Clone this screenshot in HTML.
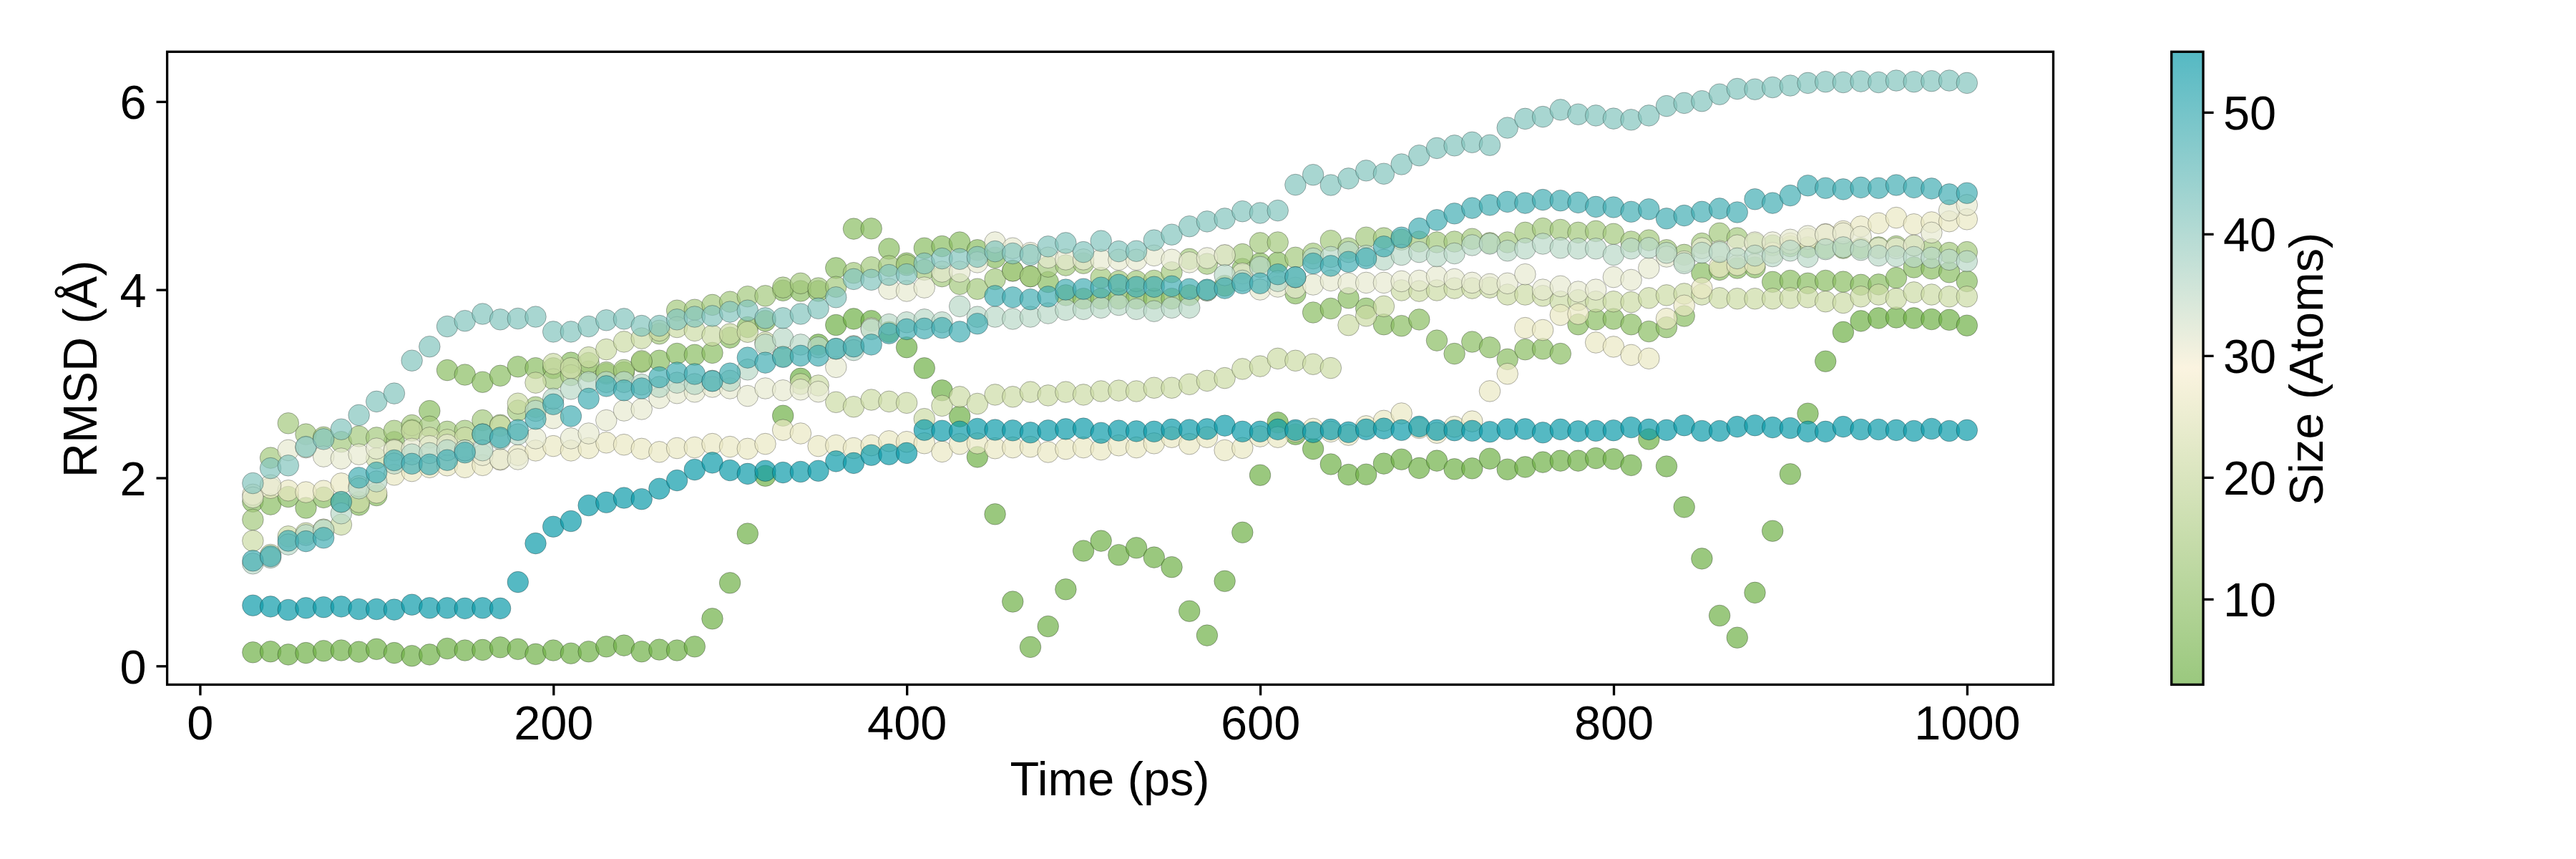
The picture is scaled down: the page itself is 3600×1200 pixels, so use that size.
<!DOCTYPE html><html><head><meta charset="utf-8"><title>RMSD</title>
<style>html,body{margin:0;padding:0;background:#fff}svg{display:block}text{font-family:"Liberation Sans",sans-serif;font-size:66.67px;fill:#000}</style></head><body>
<svg width="3600" height="1200" viewBox="0 0 3600 1200">
<rect width="3600" height="1200" fill="#fff"/>
<g fill="#6fb147" fill-opacity="0.70" stroke="#000" stroke-opacity="0.31" stroke-width="0.95">
<circle cx="353.4" cy="911.3" r="14.8"/>
<circle cx="378.1" cy="910.2" r="14.8"/>
<circle cx="402.8" cy="914.4" r="14.8"/>
<circle cx="427.5" cy="912.1" r="14.8"/>
<circle cx="452.2" cy="909.2" r="14.8"/>
<circle cx="476.9" cy="908.5" r="14.8"/>
<circle cx="501.6" cy="910.6" r="14.8"/>
<circle cx="526.2" cy="906.8" r="14.8"/>
<circle cx="550.9" cy="912.1" r="14.8"/>
<circle cx="575.6" cy="916.2" r="14.8"/>
<circle cx="600.3" cy="914.4" r="14.8"/>
<circle cx="625.0" cy="906.0" r="14.8"/>
<circle cx="649.7" cy="908.5" r="14.8"/>
<circle cx="674.4" cy="907.9" r="14.8"/>
<circle cx="699.1" cy="904.3" r="14.8"/>
<circle cx="723.8" cy="906.8" r="14.8"/>
<circle cx="748.5" cy="913.8" r="14.8"/>
<circle cx="773.2" cy="908.5" r="14.8"/>
<circle cx="797.9" cy="912.7" r="14.8"/>
<circle cx="822.6" cy="910.2" r="14.8"/>
<circle cx="847.3" cy="903.3" r="14.8"/>
<circle cx="872.0" cy="901.6" r="14.8"/>
<circle cx="896.7" cy="910.2" r="14.8"/>
<circle cx="921.4" cy="907.5" r="14.8"/>
<circle cx="946.1" cy="908.5" r="14.8"/>
<circle cx="970.8" cy="903.3" r="14.8"/>
<circle cx="995.5" cy="864.3" r="14.8"/>
<circle cx="1020.1" cy="814.3" r="14.8"/>
<circle cx="1044.8" cy="745.5" r="14.8"/>
<circle cx="1069.5" cy="664.7" r="14.8"/>
<circle cx="1094.2" cy="580.7" r="14.8"/>
<circle cx="1118.9" cy="528.8" r="14.8"/>
<circle cx="1143.6" cy="481.4" r="14.8"/>
<circle cx="1168.3" cy="454.0" r="14.8"/>
<circle cx="1193.0" cy="445.4" r="14.8"/>
<circle cx="1217.7" cy="448.2" r="14.8"/>
<circle cx="1242.4" cy="463.6" r="14.8"/>
<circle cx="1267.1" cy="485.2" r="14.8"/>
<circle cx="1291.8" cy="514.3" r="14.8"/>
<circle cx="1316.5" cy="545.3" r="14.8"/>
<circle cx="1341.2" cy="581.7" r="14.8"/>
<circle cx="1365.9" cy="638.4" r="14.8"/>
<circle cx="1390.6" cy="718.3" r="14.8"/>
<circle cx="1415.3" cy="840.5" r="14.8"/>
<circle cx="1440.0" cy="903.9" r="14.8"/>
<circle cx="1464.7" cy="875.0" r="14.8"/>
<circle cx="1489.4" cy="823.3" r="14.8"/>
<circle cx="1514.1" cy="769.5" r="14.8"/>
<circle cx="1538.7" cy="755.6" r="14.8"/>
<circle cx="1563.4" cy="775.2" r="14.8"/>
<circle cx="1588.1" cy="765.3" r="14.8"/>
<circle cx="1612.8" cy="778.6" r="14.8"/>
<circle cx="1637.5" cy="792.2" r="14.8"/>
<circle cx="1662.2" cy="853.7" r="14.8"/>
<circle cx="1686.9" cy="887.6" r="14.8"/>
<circle cx="1711.6" cy="811.8" r="14.8"/>
<circle cx="1736.3" cy="743.8" r="14.8"/>
<circle cx="1761.0" cy="663.7" r="14.8"/>
<circle cx="1785.7" cy="590.2" r="14.8"/>
<circle cx="1810.4" cy="606.7" r="14.8"/>
<circle cx="1835.1" cy="627.1" r="14.8"/>
<circle cx="1859.8" cy="648.5" r="14.8"/>
<circle cx="1884.5" cy="663.1" r="14.8"/>
<circle cx="1909.2" cy="662.7" r="14.8"/>
<circle cx="1933.9" cy="647.6" r="14.8"/>
<circle cx="1958.6" cy="641.7" r="14.8"/>
<circle cx="1983.3" cy="653.9" r="14.8"/>
<circle cx="2008.0" cy="643.6" r="14.8"/>
<circle cx="2032.6" cy="655.3" r="14.8"/>
<circle cx="2057.3" cy="654.3" r="14.8"/>
<circle cx="2082.0" cy="640.7" r="14.8"/>
<circle cx="2106.7" cy="655.7" r="14.8"/>
<circle cx="2131.4" cy="652.4" r="14.8"/>
<circle cx="2156.1" cy="645.6" r="14.8"/>
<circle cx="2180.8" cy="643.6" r="14.8"/>
<circle cx="2205.5" cy="643.6" r="14.8"/>
<circle cx="2230.2" cy="640.1" r="14.8"/>
<circle cx="2254.9" cy="641.3" r="14.8"/>
<circle cx="2279.6" cy="649.9" r="14.8"/>
<circle cx="2304.3" cy="613.5" r="14.8"/>
<circle cx="2329.0" cy="651.5" r="14.8"/>
<circle cx="2353.7" cy="708.4" r="14.8"/>
<circle cx="2378.4" cy="780.4" r="14.8"/>
<circle cx="2403.1" cy="860.0" r="14.8"/>
<circle cx="2427.8" cy="890.7" r="14.8"/>
<circle cx="2452.5" cy="827.9" r="14.8"/>
<circle cx="2477.2" cy="741.7" r="14.8"/>
<circle cx="2501.9" cy="662.3" r="14.8"/>
<circle cx="2526.5" cy="577.7" r="14.8"/>
<circle cx="2551.2" cy="504.7" r="14.8"/>
<circle cx="2575.9" cy="463.9" r="14.8"/>
<circle cx="2600.6" cy="448.4" r="14.8"/>
<circle cx="2625.3" cy="444.4" r="14.8"/>
<circle cx="2650.0" cy="443.5" r="14.8"/>
<circle cx="2674.7" cy="444.4" r="14.8"/>
<circle cx="2699.4" cy="446.0" r="14.8"/>
<circle cx="2724.1" cy="446.8" r="14.8"/>
<circle cx="2748.8" cy="454.7" r="14.8"/>
</g>
<g fill="#8abd62" fill-opacity="0.70" stroke="#000" stroke-opacity="0.31" stroke-width="0.95">
<circle cx="353.4" cy="700.7" r="14.8"/>
<circle cx="378.1" cy="704.6" r="14.8"/>
<circle cx="402.8" cy="694.0" r="14.8"/>
<circle cx="427.5" cy="709.5" r="14.8"/>
<circle cx="452.2" cy="694.9" r="14.8"/>
<circle cx="476.9" cy="701.4" r="14.8"/>
<circle cx="501.6" cy="705.4" r="14.8"/>
<circle cx="526.2" cy="692.0" r="14.8"/>
<circle cx="550.9" cy="617.4" r="14.8"/>
<circle cx="575.6" cy="600.3" r="14.8"/>
<circle cx="600.3" cy="574.1" r="14.8"/>
<circle cx="625.0" cy="517.1" r="14.8"/>
<circle cx="649.7" cy="523.5" r="14.8"/>
<circle cx="674.4" cy="533.7" r="14.8"/>
<circle cx="699.1" cy="524.8" r="14.8"/>
<circle cx="723.8" cy="512.2" r="14.8"/>
<circle cx="748.5" cy="514.2" r="14.8"/>
<circle cx="773.2" cy="514.3" r="14.8"/>
<circle cx="797.9" cy="506.6" r="14.8"/>
<circle cx="822.6" cy="518.8" r="14.8"/>
<circle cx="847.3" cy="522.1" r="14.8"/>
<circle cx="872.0" cy="520.1" r="14.8"/>
<circle cx="896.7" cy="505.7" r="14.8"/>
<circle cx="921.4" cy="503.7" r="14.8"/>
<circle cx="946.1" cy="494.0" r="14.8"/>
<circle cx="970.8" cy="495.8" r="14.8"/>
<circle cx="995.5" cy="492.9" r="14.8"/>
<circle cx="1020.1" cy="471.6" r="14.8"/>
<circle cx="1044.8" cy="457.0" r="14.8"/>
<circle cx="1069.5" cy="448.2" r="14.8"/>
<circle cx="1094.2" cy="405.8" r="14.8"/>
<circle cx="1118.9" cy="406.5" r="14.8"/>
<circle cx="1143.6" cy="406.5" r="14.8"/>
<circle cx="1168.3" cy="374.4" r="14.8"/>
<circle cx="1193.0" cy="319.6" r="14.8"/>
<circle cx="1217.7" cy="319.3" r="14.8"/>
<circle cx="1242.4" cy="347.5" r="14.8"/>
<circle cx="1267.1" cy="367.7" r="14.8"/>
<circle cx="1291.8" cy="346.7" r="14.8"/>
<circle cx="1316.5" cy="344.0" r="14.8"/>
<circle cx="1341.2" cy="338.5" r="14.8"/>
<circle cx="1365.9" cy="349.3" r="14.8"/>
<circle cx="1390.6" cy="359.8" r="14.8"/>
<circle cx="1415.3" cy="378.3" r="14.8"/>
<circle cx="1440.0" cy="386.1" r="14.8"/>
<circle cx="1464.7" cy="394.0" r="14.8"/>
<circle cx="1489.4" cy="412.4" r="14.8"/>
<circle cx="1514.1" cy="417.2" r="14.8"/>
<circle cx="1538.7" cy="417.2" r="14.8"/>
<circle cx="1563.4" cy="417.2" r="14.8"/>
<circle cx="1588.1" cy="417.2" r="14.8"/>
<circle cx="1612.8" cy="417.2" r="14.8"/>
<circle cx="1637.5" cy="417.2" r="14.8"/>
<circle cx="1662.2" cy="412.4" r="14.8"/>
<circle cx="1686.9" cy="405.8" r="14.8"/>
<circle cx="1711.6" cy="399.2" r="14.8"/>
<circle cx="1736.3" cy="375.6" r="14.8"/>
<circle cx="1761.0" cy="367.7" r="14.8"/>
<circle cx="1785.7" cy="366.8" r="14.8"/>
<circle cx="1810.4" cy="410.0" r="14.8"/>
<circle cx="1835.1" cy="436.5" r="14.8"/>
<circle cx="1859.8" cy="431.0" r="14.8"/>
<circle cx="1884.5" cy="416.3" r="14.8"/>
<circle cx="1909.2" cy="430.9" r="14.8"/>
<circle cx="1933.9" cy="453.2" r="14.8"/>
<circle cx="1958.6" cy="455.2" r="14.8"/>
<circle cx="1983.3" cy="446.4" r="14.8"/>
<circle cx="2008.0" cy="475.6" r="14.8"/>
<circle cx="2032.6" cy="494.1" r="14.8"/>
<circle cx="2057.3" cy="477.5" r="14.8"/>
<circle cx="2082.0" cy="485.3" r="14.8"/>
<circle cx="2106.7" cy="501.9" r="14.8"/>
<circle cx="2131.4" cy="488.2" r="14.8"/>
<circle cx="2156.1" cy="487.3" r="14.8"/>
<circle cx="2180.8" cy="494.1" r="14.8"/>
<circle cx="2205.5" cy="453.2" r="14.8"/>
<circle cx="2230.2" cy="446.4" r="14.8"/>
<circle cx="2254.9" cy="445.5" r="14.8"/>
<circle cx="2279.6" cy="453.2" r="14.8"/>
<circle cx="2304.3" cy="463.0" r="14.8"/>
<circle cx="2329.0" cy="457.2" r="14.8"/>
<circle cx="2353.7" cy="441.5" r="14.8"/>
<circle cx="2378.4" cy="381.2" r="14.8"/>
<circle cx="2403.1" cy="376.9" r="14.8"/>
<circle cx="2427.8" cy="374.5" r="14.8"/>
<circle cx="2452.5" cy="373.6" r="14.8"/>
<circle cx="2477.2" cy="393.8" r="14.8"/>
<circle cx="2501.9" cy="392.0" r="14.8"/>
<circle cx="2526.5" cy="395.8" r="14.8"/>
<circle cx="2551.2" cy="392.0" r="14.8"/>
<circle cx="2575.9" cy="393.6" r="14.8"/>
<circle cx="2600.6" cy="397.8" r="14.8"/>
<circle cx="2625.3" cy="397.4" r="14.8"/>
<circle cx="2650.0" cy="388.1" r="14.8"/>
<circle cx="2674.7" cy="373.5" r="14.8"/>
<circle cx="2699.4" cy="375.4" r="14.8"/>
<circle cx="2724.1" cy="380.3" r="14.8"/>
<circle cx="2748.8" cy="392.9" r="14.8"/>
</g>
<g fill="#a4c97d" fill-opacity="0.70" stroke="#000" stroke-opacity="0.31" stroke-width="0.95">
<circle cx="353.4" cy="726.0" r="14.8"/>
<circle cx="378.1" cy="639.6" r="14.8"/>
<circle cx="402.8" cy="591.3" r="14.8"/>
<circle cx="427.5" cy="606.6" r="14.8"/>
<circle cx="452.2" cy="610.8" r="14.8"/>
<circle cx="476.9" cy="617.2" r="14.8"/>
<circle cx="501.6" cy="609.5" r="14.8"/>
<circle cx="526.2" cy="611.4" r="14.8"/>
<circle cx="550.9" cy="601.7" r="14.8"/>
<circle cx="575.6" cy="594.0" r="14.8"/>
<circle cx="600.3" cy="595.8" r="14.8"/>
<circle cx="625.0" cy="602.9" r="14.8"/>
<circle cx="649.7" cy="601.7" r="14.8"/>
<circle cx="674.4" cy="587.1" r="14.8"/>
<circle cx="699.1" cy="593.7" r="14.8"/>
<circle cx="723.8" cy="573.5" r="14.8"/>
<circle cx="748.5" cy="568.7" r="14.8"/>
<circle cx="773.2" cy="529.7" r="14.8"/>
<circle cx="797.9" cy="524.1" r="14.8"/>
<circle cx="822.6" cy="507.0" r="14.8"/>
<circle cx="847.3" cy="520.1" r="14.8"/>
<circle cx="872.0" cy="516.8" r="14.8"/>
<circle cx="896.7" cy="504.3" r="14.8"/>
<circle cx="921.4" cy="466.2" r="14.8"/>
<circle cx="946.1" cy="433.7" r="14.8"/>
<circle cx="970.8" cy="432.7" r="14.8"/>
<circle cx="995.5" cy="425.9" r="14.8"/>
<circle cx="1020.1" cy="421.6" r="14.8"/>
<circle cx="1044.8" cy="414.2" r="14.8"/>
<circle cx="1069.5" cy="413.3" r="14.8"/>
<circle cx="1094.2" cy="401.6" r="14.8"/>
<circle cx="1118.9" cy="395.8" r="14.8"/>
<circle cx="1143.6" cy="402.5" r="14.8"/>
<circle cx="1168.3" cy="400.7" r="14.8"/>
<circle cx="1193.0" cy="381.2" r="14.8"/>
<circle cx="1217.7" cy="373.3" r="14.8"/>
<circle cx="1242.4" cy="371.6" r="14.8"/>
<circle cx="1267.1" cy="370.3" r="14.8"/>
<circle cx="1291.8" cy="376.9" r="14.8"/>
<circle cx="1316.5" cy="386.1" r="14.8"/>
<circle cx="1341.2" cy="396.9" r="14.8"/>
<circle cx="1365.9" cy="403.7" r="14.8"/>
<circle cx="1390.6" cy="390.0" r="14.8"/>
<circle cx="1415.3" cy="378.3" r="14.8"/>
<circle cx="1440.0" cy="386.1" r="14.8"/>
<circle cx="1464.7" cy="372.6" r="14.8"/>
<circle cx="1489.4" cy="370.6" r="14.8"/>
<circle cx="1514.1" cy="367.7" r="14.8"/>
<circle cx="1538.7" cy="388.1" r="14.8"/>
<circle cx="1563.4" cy="392.7" r="14.8"/>
<circle cx="1588.1" cy="392.7" r="14.8"/>
<circle cx="1612.8" cy="392.0" r="14.8"/>
<circle cx="1637.5" cy="380.3" r="14.8"/>
<circle cx="1662.2" cy="361.9" r="14.8"/>
<circle cx="1686.9" cy="368.6" r="14.8"/>
<circle cx="1711.6" cy="356.9" r="14.8"/>
<circle cx="1736.3" cy="355.1" r="14.8"/>
<circle cx="1761.0" cy="339.4" r="14.8"/>
<circle cx="1785.7" cy="338.5" r="14.8"/>
<circle cx="1810.4" cy="359.8" r="14.8"/>
<circle cx="1835.1" cy="354.2" r="14.8"/>
<circle cx="1859.8" cy="336.2" r="14.8"/>
<circle cx="1884.5" cy="346.7" r="14.8"/>
<circle cx="1909.2" cy="331.7" r="14.8"/>
<circle cx="1933.9" cy="332.6" r="14.8"/>
<circle cx="1958.6" cy="334.8" r="14.8"/>
<circle cx="1983.3" cy="337.5" r="14.8"/>
<circle cx="2008.0" cy="338.5" r="14.8"/>
<circle cx="2032.6" cy="337.5" r="14.8"/>
<circle cx="2057.3" cy="333.7" r="14.8"/>
<circle cx="2082.0" cy="339.4" r="14.8"/>
<circle cx="2106.7" cy="338.5" r="14.8"/>
<circle cx="2131.4" cy="324.9" r="14.8"/>
<circle cx="2156.1" cy="319.1" r="14.8"/>
<circle cx="2180.8" cy="321.0" r="14.8"/>
<circle cx="2205.5" cy="324.9" r="14.8"/>
<circle cx="2230.2" cy="322.9" r="14.8"/>
<circle cx="2254.9" cy="326.8" r="14.8"/>
<circle cx="2279.6" cy="337.5" r="14.8"/>
<circle cx="2304.3" cy="335.6" r="14.8"/>
<circle cx="2329.0" cy="349.3" r="14.8"/>
<circle cx="2353.7" cy="355.9" r="14.8"/>
<circle cx="2378.4" cy="340.1" r="14.8"/>
<circle cx="2403.1" cy="325.9" r="14.8"/>
<circle cx="2427.8" cy="332.6" r="14.8"/>
<circle cx="2452.5" cy="340.1" r="14.8"/>
<circle cx="2477.2" cy="342.7" r="14.8"/>
<circle cx="2501.9" cy="344.0" r="14.8"/>
<circle cx="2526.5" cy="345.4" r="14.8"/>
<circle cx="2551.2" cy="346.7" r="14.8"/>
<circle cx="2575.9" cy="346.7" r="14.8"/>
<circle cx="2600.6" cy="346.7" r="14.8"/>
<circle cx="2625.3" cy="345.4" r="14.8"/>
<circle cx="2650.0" cy="344.0" r="14.8"/>
<circle cx="2674.7" cy="343.4" r="14.8"/>
<circle cx="2699.4" cy="348.0" r="14.8"/>
<circle cx="2724.1" cy="353.1" r="14.8"/>
<circle cx="2748.8" cy="352.1" r="14.8"/>
</g>
<g fill="#ccdba5" fill-opacity="0.70" stroke="#000" stroke-opacity="0.31" stroke-width="0.95">
<circle cx="353.4" cy="755.5" r="14.8"/>
<circle cx="378.1" cy="775.0" r="14.8"/>
<circle cx="402.8" cy="749.3" r="14.8"/>
<circle cx="427.5" cy="744.8" r="14.8"/>
<circle cx="452.2" cy="739.6" r="14.8"/>
<circle cx="476.9" cy="732.9" r="14.8"/>
<circle cx="501.6" cy="701.4" r="14.8"/>
<circle cx="526.2" cy="640.2" r="14.8"/>
<circle cx="550.9" cy="627.9" r="14.8"/>
<circle cx="575.6" cy="601.7" r="14.8"/>
<circle cx="600.3" cy="611.4" r="14.8"/>
<circle cx="625.0" cy="614.3" r="14.8"/>
<circle cx="649.7" cy="611.4" r="14.8"/>
<circle cx="674.4" cy="606.8" r="14.8"/>
<circle cx="699.1" cy="595.0" r="14.8"/>
<circle cx="723.8" cy="563.7" r="14.8"/>
<circle cx="748.5" cy="534.6" r="14.8"/>
<circle cx="773.2" cy="508.3" r="14.8"/>
<circle cx="797.9" cy="514.2" r="14.8"/>
<circle cx="822.6" cy="499.1" r="14.8"/>
<circle cx="847.3" cy="488.1" r="14.8"/>
<circle cx="872.0" cy="477.4" r="14.8"/>
<circle cx="896.7" cy="472.6" r="14.8"/>
<circle cx="921.4" cy="461.9" r="14.8"/>
<circle cx="946.1" cy="457.0" r="14.8"/>
<circle cx="970.8" cy="461.9" r="14.8"/>
<circle cx="995.5" cy="468.7" r="14.8"/>
<circle cx="1020.1" cy="466.6" r="14.8"/>
<circle cx="1044.8" cy="463.7" r="14.8"/>
<circle cx="1069.5" cy="478.3" r="14.8"/>
<circle cx="1094.2" cy="497.8" r="14.8"/>
<circle cx="1118.9" cy="536.5" r="14.8"/>
<circle cx="1143.6" cy="538.5" r="14.8"/>
<circle cx="1168.3" cy="561.8" r="14.8"/>
<circle cx="1193.0" cy="568.2" r="14.8"/>
<circle cx="1217.7" cy="558.5" r="14.8"/>
<circle cx="1242.4" cy="560.9" r="14.8"/>
<circle cx="1267.1" cy="562.8" r="14.8"/>
<circle cx="1291.8" cy="585.2" r="14.8"/>
<circle cx="1316.5" cy="566.8" r="14.8"/>
<circle cx="1341.2" cy="554.3" r="14.8"/>
<circle cx="1365.9" cy="564.0" r="14.8"/>
<circle cx="1390.6" cy="551.4" r="14.8"/>
<circle cx="1415.3" cy="554.3" r="14.8"/>
<circle cx="1440.0" cy="547.6" r="14.8"/>
<circle cx="1464.7" cy="552.4" r="14.8"/>
<circle cx="1489.4" cy="547.6" r="14.8"/>
<circle cx="1514.1" cy="551.4" r="14.8"/>
<circle cx="1538.7" cy="546.5" r="14.8"/>
<circle cx="1563.4" cy="545.6" r="14.8"/>
<circle cx="1588.1" cy="546.5" r="14.8"/>
<circle cx="1612.8" cy="541.7" r="14.8"/>
<circle cx="1637.5" cy="541.7" r="14.8"/>
<circle cx="1662.2" cy="536.8" r="14.8"/>
<circle cx="1686.9" cy="531.9" r="14.8"/>
<circle cx="1711.6" cy="528.1" r="14.8"/>
<circle cx="1736.3" cy="515.4" r="14.8"/>
<circle cx="1761.0" cy="511.6" r="14.8"/>
<circle cx="1785.7" cy="500.9" r="14.8"/>
<circle cx="1810.4" cy="503.8" r="14.8"/>
<circle cx="1835.1" cy="508.7" r="14.8"/>
<circle cx="1859.8" cy="514.1" r="14.8"/>
<circle cx="1884.5" cy="454.2" r="14.8"/>
<circle cx="1909.2" cy="441.3" r="14.8"/>
<circle cx="1933.9" cy="427.9" r="14.8"/>
<circle cx="1958.6" cy="405.5" r="14.8"/>
<circle cx="1983.3" cy="406.6" r="14.8"/>
<circle cx="2008.0" cy="405.5" r="14.8"/>
<circle cx="2032.6" cy="402.6" r="14.8"/>
<circle cx="2057.3" cy="402.6" r="14.8"/>
<circle cx="2082.0" cy="401.7" r="14.8"/>
<circle cx="2106.7" cy="411.5" r="14.8"/>
<circle cx="2131.4" cy="411.5" r="14.8"/>
<circle cx="2156.1" cy="413.3" r="14.8"/>
<circle cx="2180.8" cy="421.2" r="14.8"/>
<circle cx="2205.5" cy="419.2" r="14.8"/>
<circle cx="2230.2" cy="421.2" r="14.8"/>
<circle cx="2254.9" cy="421.2" r="14.8"/>
<circle cx="2279.6" cy="422.1" r="14.8"/>
<circle cx="2304.3" cy="416.3" r="14.8"/>
<circle cx="2329.0" cy="412.4" r="14.8"/>
<circle cx="2353.7" cy="410.4" r="14.8"/>
<circle cx="2378.4" cy="411.5" r="14.8"/>
<circle cx="2403.1" cy="416.3" r="14.8"/>
<circle cx="2427.8" cy="417.2" r="14.8"/>
<circle cx="2452.5" cy="417.2" r="14.8"/>
<circle cx="2477.2" cy="417.2" r="14.8"/>
<circle cx="2501.9" cy="416.3" r="14.8"/>
<circle cx="2526.5" cy="415.3" r="14.8"/>
<circle cx="2551.2" cy="421.2" r="14.8"/>
<circle cx="2575.9" cy="423.0" r="14.8"/>
<circle cx="2600.6" cy="414.3" r="14.8"/>
<circle cx="2625.3" cy="411.5" r="14.8"/>
<circle cx="2650.0" cy="417.2" r="14.8"/>
<circle cx="2674.7" cy="408.4" r="14.8"/>
<circle cx="2699.4" cy="411.5" r="14.8"/>
<circle cx="2724.1" cy="414.3" r="14.8"/>
<circle cx="2748.8" cy="414.3" r="14.8"/>
</g>
<g fill="#e9e8c3" fill-opacity="0.70" stroke="#000" stroke-opacity="0.31" stroke-width="0.95">
<circle cx="353.4" cy="690.9" r="14.8"/>
<circle cx="378.1" cy="681.7" r="14.8"/>
<circle cx="402.8" cy="685.2" r="14.8"/>
<circle cx="427.5" cy="687.5" r="14.8"/>
<circle cx="452.2" cy="685.7" r="14.8"/>
<circle cx="476.9" cy="675.4" r="14.8"/>
<circle cx="501.6" cy="679.1" r="14.8"/>
<circle cx="526.2" cy="688.3" r="14.8"/>
<circle cx="550.9" cy="663.3" r="14.8"/>
<circle cx="575.6" cy="658.1" r="14.8"/>
<circle cx="600.3" cy="652.8" r="14.8"/>
<circle cx="625.0" cy="650.2" r="14.8"/>
<circle cx="649.7" cy="652.8" r="14.8"/>
<circle cx="674.4" cy="649.8" r="14.8"/>
<circle cx="699.1" cy="642.3" r="14.8"/>
<circle cx="723.8" cy="635.7" r="14.8"/>
<circle cx="748.5" cy="629.4" r="14.8"/>
<circle cx="773.2" cy="623.1" r="14.8"/>
<circle cx="797.9" cy="629.4" r="14.8"/>
<circle cx="822.6" cy="626.0" r="14.8"/>
<circle cx="847.3" cy="618.3" r="14.8"/>
<circle cx="872.0" cy="621.2" r="14.8"/>
<circle cx="896.7" cy="626.9" r="14.8"/>
<circle cx="921.4" cy="631.3" r="14.8"/>
<circle cx="946.1" cy="626.0" r="14.8"/>
<circle cx="970.8" cy="625.0" r="14.8"/>
<circle cx="995.5" cy="620.1" r="14.8"/>
<circle cx="1020.1" cy="624.1" r="14.8"/>
<circle cx="1044.8" cy="626.9" r="14.8"/>
<circle cx="1069.5" cy="620.1" r="14.8"/>
<circle cx="1094.2" cy="600.7" r="14.8"/>
<circle cx="1118.9" cy="605.5" r="14.8"/>
<circle cx="1143.6" cy="623.1" r="14.8"/>
<circle cx="1168.3" cy="622.1" r="14.8"/>
<circle cx="1193.0" cy="626.0" r="14.8"/>
<circle cx="1217.7" cy="622.1" r="14.8"/>
<circle cx="1242.4" cy="616.3" r="14.8"/>
<circle cx="1267.1" cy="617.2" r="14.8"/>
<circle cx="1291.8" cy="619.2" r="14.8"/>
<circle cx="1316.5" cy="630.9" r="14.8"/>
<circle cx="1341.2" cy="620.2" r="14.8"/>
<circle cx="1365.9" cy="619.3" r="14.8"/>
<circle cx="1390.6" cy="626.2" r="14.8"/>
<circle cx="1415.3" cy="625.1" r="14.8"/>
<circle cx="1440.0" cy="624.2" r="14.8"/>
<circle cx="1464.7" cy="631.5" r="14.8"/>
<circle cx="1489.4" cy="627.1" r="14.8"/>
<circle cx="1514.1" cy="625.1" r="14.8"/>
<circle cx="1538.7" cy="628.1" r="14.8"/>
<circle cx="1563.4" cy="622.2" r="14.8"/>
<circle cx="1588.1" cy="625.1" r="14.8"/>
<circle cx="1612.8" cy="619.3" r="14.8"/>
<circle cx="1637.5" cy="610.7" r="14.8"/>
<circle cx="1662.2" cy="620.2" r="14.8"/>
<circle cx="1686.9" cy="610.7" r="14.8"/>
<circle cx="1711.6" cy="629.0" r="14.8"/>
<circle cx="1736.3" cy="625.8" r="14.8"/>
<circle cx="1761.0" cy="609.6" r="14.8"/>
<circle cx="1785.7" cy="610.7" r="14.8"/>
<circle cx="1810.4" cy="602.9" r="14.8"/>
<circle cx="1835.1" cy="599.0" r="14.8"/>
<circle cx="1859.8" cy="602.9" r="14.8"/>
<circle cx="1884.5" cy="607.6" r="14.8"/>
<circle cx="1909.2" cy="595.3" r="14.8"/>
<circle cx="1933.9" cy="587.8" r="14.8"/>
<circle cx="1958.6" cy="577.5" r="14.8"/>
<circle cx="1983.3" cy="597.9" r="14.8"/>
<circle cx="2008.0" cy="604.7" r="14.8"/>
<circle cx="2032.6" cy="596.1" r="14.8"/>
<circle cx="2057.3" cy="588.6" r="14.8"/>
<circle cx="2082.0" cy="546.4" r="14.8"/>
<circle cx="2106.7" cy="522.2" r="14.8"/>
<circle cx="2131.4" cy="458.1" r="14.8"/>
<circle cx="2156.1" cy="461.0" r="14.8"/>
<circle cx="2180.8" cy="440.0" r="14.8"/>
<circle cx="2205.5" cy="438.6" r="14.8"/>
<circle cx="2230.2" cy="478.5" r="14.8"/>
<circle cx="2254.9" cy="484.4" r="14.8"/>
<circle cx="2279.6" cy="495.9" r="14.8"/>
<circle cx="2304.3" cy="500.8" r="14.8"/>
<circle cx="2329.0" cy="445.2" r="14.8"/>
<circle cx="2353.7" cy="426.8" r="14.8"/>
<circle cx="2378.4" cy="402.6" r="14.8"/>
<circle cx="2403.1" cy="372.9" r="14.8"/>
<circle cx="2427.8" cy="370.3" r="14.8"/>
<circle cx="2452.5" cy="369.0" r="14.8"/>
<circle cx="2477.2" cy="353.2" r="14.8"/>
<circle cx="2501.9" cy="340.1" r="14.8"/>
<circle cx="2526.5" cy="333.5" r="14.8"/>
<circle cx="2551.2" cy="327.0" r="14.8"/>
<circle cx="2575.9" cy="323.0" r="14.8"/>
<circle cx="2600.6" cy="316.4" r="14.8"/>
<circle cx="2625.3" cy="311.8" r="14.8"/>
<circle cx="2650.0" cy="304.1" r="14.8"/>
<circle cx="2674.7" cy="313.3" r="14.8"/>
<circle cx="2699.4" cy="310.5" r="14.8"/>
<circle cx="2724.1" cy="309.2" r="14.8"/>
<circle cx="2748.8" cy="306.3" r="14.8"/>
</g>
<g fill="#e7e9d0" fill-opacity="0.70" stroke="#000" stroke-opacity="0.31" stroke-width="0.95">
<circle cx="353.4" cy="694.9" r="14.8"/>
<circle cx="378.1" cy="677.8" r="14.8"/>
<circle cx="402.8" cy="628.9" r="14.8"/>
<circle cx="427.5" cy="625.2" r="14.8"/>
<circle cx="452.2" cy="637.6" r="14.8"/>
<circle cx="476.9" cy="640.6" r="14.8"/>
<circle cx="501.6" cy="634.7" r="14.8"/>
<circle cx="526.2" cy="626.6" r="14.8"/>
<circle cx="550.9" cy="629.2" r="14.8"/>
<circle cx="575.6" cy="626.9" r="14.8"/>
<circle cx="600.3" cy="623.1" r="14.8"/>
<circle cx="625.0" cy="621.3" r="14.8"/>
<circle cx="649.7" cy="629.2" r="14.8"/>
<circle cx="674.4" cy="635.7" r="14.8"/>
<circle cx="699.1" cy="641.4" r="14.8"/>
<circle cx="723.8" cy="641.5" r="14.8"/>
<circle cx="748.5" cy="612.4" r="14.8"/>
<circle cx="773.2" cy="584.2" r="14.8"/>
<circle cx="797.9" cy="612.4" r="14.8"/>
<circle cx="822.6" cy="605.5" r="14.8"/>
<circle cx="847.3" cy="587.1" r="14.8"/>
<circle cx="872.0" cy="573.5" r="14.8"/>
<circle cx="896.7" cy="571.5" r="14.8"/>
<circle cx="921.4" cy="556.0" r="14.8"/>
<circle cx="946.1" cy="549.2" r="14.8"/>
<circle cx="970.8" cy="547.3" r="14.8"/>
<circle cx="995.5" cy="540.5" r="14.8"/>
<circle cx="1020.1" cy="542.5" r="14.8"/>
<circle cx="1044.8" cy="553.1" r="14.8"/>
<circle cx="1069.5" cy="542.5" r="14.8"/>
<circle cx="1094.2" cy="545.3" r="14.8"/>
<circle cx="1118.9" cy="544.3" r="14.8"/>
<circle cx="1143.6" cy="547.2" r="14.8"/>
<circle cx="1168.3" cy="512.8" r="14.8"/>
<circle cx="1193.0" cy="483.3" r="14.8"/>
<circle cx="1217.7" cy="458.4" r="14.8"/>
<circle cx="1242.4" cy="403.6" r="14.8"/>
<circle cx="1267.1" cy="406.5" r="14.8"/>
<circle cx="1291.8" cy="401.6" r="14.8"/>
<circle cx="1316.5" cy="379.5" r="14.8"/>
<circle cx="1341.2" cy="379.5" r="14.8"/>
<circle cx="1365.9" cy="366.4" r="14.8"/>
<circle cx="1390.6" cy="338.5" r="14.8"/>
<circle cx="1415.3" cy="346.7" r="14.8"/>
<circle cx="1440.0" cy="353.2" r="14.8"/>
<circle cx="1464.7" cy="359.8" r="14.8"/>
<circle cx="1489.4" cy="362.4" r="14.8"/>
<circle cx="1514.1" cy="362.4" r="14.8"/>
<circle cx="1538.7" cy="362.8" r="14.8"/>
<circle cx="1563.4" cy="362.8" r="14.8"/>
<circle cx="1588.1" cy="362.8" r="14.8"/>
<circle cx="1612.8" cy="356.9" r="14.8"/>
<circle cx="1637.5" cy="362.8" r="14.8"/>
<circle cx="1662.2" cy="366.4" r="14.8"/>
<circle cx="1686.9" cy="360.5" r="14.8"/>
<circle cx="1711.6" cy="356.3" r="14.8"/>
<circle cx="1736.3" cy="382.1" r="14.8"/>
<circle cx="1761.0" cy="404.5" r="14.8"/>
<circle cx="1785.7" cy="400.5" r="14.8"/>
<circle cx="1810.4" cy="401.9" r="14.8"/>
<circle cx="1835.1" cy="397.5" r="14.8"/>
<circle cx="1859.8" cy="391.9" r="14.8"/>
<circle cx="1884.5" cy="395.8" r="14.8"/>
<circle cx="1909.2" cy="394.9" r="14.8"/>
<circle cx="1933.9" cy="394.9" r="14.8"/>
<circle cx="1958.6" cy="392.9" r="14.8"/>
<circle cx="1983.3" cy="392.0" r="14.8"/>
<circle cx="2008.0" cy="386.1" r="14.8"/>
<circle cx="2032.6" cy="390.0" r="14.8"/>
<circle cx="2057.3" cy="394.9" r="14.8"/>
<circle cx="2082.0" cy="396.9" r="14.8"/>
<circle cx="2106.7" cy="395.8" r="14.8"/>
<circle cx="2131.4" cy="383.2" r="14.8"/>
<circle cx="2156.1" cy="404.6" r="14.8"/>
<circle cx="2180.8" cy="399.8" r="14.8"/>
<circle cx="2205.5" cy="407.5" r="14.8"/>
<circle cx="2230.2" cy="404.6" r="14.8"/>
<circle cx="2254.9" cy="387.1" r="14.8"/>
<circle cx="2279.6" cy="391.0" r="14.8"/>
<circle cx="2304.3" cy="374.5" r="14.8"/>
<circle cx="2329.0" cy="358.5" r="14.8"/>
<circle cx="2353.7" cy="365.1" r="14.8"/>
<circle cx="2378.4" cy="346.7" r="14.8"/>
<circle cx="2403.1" cy="350.6" r="14.8"/>
<circle cx="2427.8" cy="342.7" r="14.8"/>
<circle cx="2452.5" cy="338.5" r="14.8"/>
<circle cx="2477.2" cy="338.5" r="14.8"/>
<circle cx="2501.9" cy="334.8" r="14.8"/>
<circle cx="2526.5" cy="329.7" r="14.8"/>
<circle cx="2551.2" cy="327.7" r="14.8"/>
<circle cx="2575.9" cy="325.9" r="14.8"/>
<circle cx="2600.6" cy="330.6" r="14.8"/>
<circle cx="2625.3" cy="346.7" r="14.8"/>
<circle cx="2650.0" cy="346.7" r="14.8"/>
<circle cx="2674.7" cy="342.7" r="14.8"/>
<circle cx="2699.4" cy="324.9" r="14.8"/>
<circle cx="2724.1" cy="294.1" r="14.8"/>
<circle cx="2748.8" cy="286.4" r="14.8"/>
</g>
<g fill="#b9d8c8" fill-opacity="0.70" stroke="#000" stroke-opacity="0.31" stroke-width="0.95">
<circle cx="353.4" cy="787.3" r="14.8"/>
<circle cx="378.1" cy="779.0" r="14.8"/>
<circle cx="402.8" cy="760.6" r="14.8"/>
<circle cx="427.5" cy="747.4" r="14.8"/>
<circle cx="452.2" cy="740.6" r="14.8"/>
<circle cx="476.9" cy="717.2" r="14.8"/>
<circle cx="501.6" cy="682.3" r="14.8"/>
<circle cx="526.2" cy="672.5" r="14.8"/>
<circle cx="550.9" cy="647.6" r="14.8"/>
<circle cx="575.6" cy="634.7" r="14.8"/>
<circle cx="600.3" cy="632.9" r="14.8"/>
<circle cx="625.0" cy="628.9" r="14.8"/>
<circle cx="649.7" cy="629.2" r="14.8"/>
<circle cx="674.4" cy="629.2" r="14.8"/>
<circle cx="699.1" cy="613.4" r="14.8"/>
<circle cx="723.8" cy="606.8" r="14.8"/>
<circle cx="748.5" cy="574.0" r="14.8"/>
<circle cx="773.2" cy="556.9" r="14.8"/>
<circle cx="797.9" cy="543.4" r="14.8"/>
<circle cx="822.6" cy="533.7" r="14.8"/>
<circle cx="847.3" cy="533.7" r="14.8"/>
<circle cx="872.0" cy="533.7" r="14.8"/>
<circle cx="896.7" cy="537.2" r="14.8"/>
<circle cx="921.4" cy="540.5" r="14.8"/>
<circle cx="946.1" cy="534.6" r="14.8"/>
<circle cx="970.8" cy="536.5" r="14.8"/>
<circle cx="995.5" cy="531.9" r="14.8"/>
<circle cx="1020.1" cy="531.9" r="14.8"/>
<circle cx="1044.8" cy="516.3" r="14.8"/>
<circle cx="1069.5" cy="481.4" r="14.8"/>
<circle cx="1094.2" cy="472.6" r="14.8"/>
<circle cx="1118.9" cy="481.4" r="14.8"/>
<circle cx="1143.6" cy="485.2" r="14.8"/>
<circle cx="1168.3" cy="487.3" r="14.8"/>
<circle cx="1193.0" cy="489.1" r="14.8"/>
<circle cx="1217.7" cy="459.9" r="14.8"/>
<circle cx="1242.4" cy="453.1" r="14.8"/>
<circle cx="1267.1" cy="450.2" r="14.8"/>
<circle cx="1291.8" cy="446.3" r="14.8"/>
<circle cx="1316.5" cy="450.2" r="14.8"/>
<circle cx="1341.2" cy="427.9" r="14.8"/>
<circle cx="1365.9" cy="442.6" r="14.8"/>
<circle cx="1390.6" cy="442.5" r="14.8"/>
<circle cx="1415.3" cy="445.5" r="14.8"/>
<circle cx="1440.0" cy="442.5" r="14.8"/>
<circle cx="1464.7" cy="437.6" r="14.8"/>
<circle cx="1489.4" cy="432.9" r="14.8"/>
<circle cx="1514.1" cy="431.8" r="14.8"/>
<circle cx="1538.7" cy="429.8" r="14.8"/>
<circle cx="1563.4" cy="426.0" r="14.8"/>
<circle cx="1588.1" cy="431.8" r="14.8"/>
<circle cx="1612.8" cy="434.7" r="14.8"/>
<circle cx="1637.5" cy="429.8" r="14.8"/>
<circle cx="1662.2" cy="429.8" r="14.8"/>
<circle cx="1686.9" cy="405.8" r="14.8"/>
<circle cx="1711.6" cy="384.3" r="14.8"/>
<circle cx="1736.3" cy="392.0" r="14.8"/>
<circle cx="1761.0" cy="372.9" r="14.8"/>
<circle cx="1785.7" cy="392.7" r="14.8"/>
<circle cx="1810.4" cy="387.4" r="14.8"/>
<circle cx="1835.1" cy="361.1" r="14.8"/>
<circle cx="1859.8" cy="358.9" r="14.8"/>
<circle cx="1884.5" cy="352.1" r="14.8"/>
<circle cx="1909.2" cy="357.2" r="14.8"/>
<circle cx="1933.9" cy="362.8" r="14.8"/>
<circle cx="1958.6" cy="356.0" r="14.8"/>
<circle cx="1983.3" cy="352.1" r="14.8"/>
<circle cx="2008.0" cy="358.0" r="14.8"/>
<circle cx="2032.6" cy="354.0" r="14.8"/>
<circle cx="2057.3" cy="342.5" r="14.8"/>
<circle cx="2082.0" cy="340.5" r="14.8"/>
<circle cx="2106.7" cy="350.2" r="14.8"/>
<circle cx="2131.4" cy="347.3" r="14.8"/>
<circle cx="2156.1" cy="340.5" r="14.8"/>
<circle cx="2180.8" cy="346.3" r="14.8"/>
<circle cx="2205.5" cy="347.3" r="14.8"/>
<circle cx="2230.2" cy="347.3" r="14.8"/>
<circle cx="2254.9" cy="356.0" r="14.8"/>
<circle cx="2279.6" cy="347.3" r="14.8"/>
<circle cx="2304.3" cy="346.3" r="14.8"/>
<circle cx="2329.0" cy="353.2" r="14.8"/>
<circle cx="2353.7" cy="367.7" r="14.8"/>
<circle cx="2378.4" cy="353.1" r="14.8"/>
<circle cx="2403.1" cy="352.1" r="14.8"/>
<circle cx="2427.8" cy="360.9" r="14.8"/>
<circle cx="2452.5" cy="357.1" r="14.8"/>
<circle cx="2477.2" cy="358.0" r="14.8"/>
<circle cx="2501.9" cy="350.2" r="14.8"/>
<circle cx="2526.5" cy="358.9" r="14.8"/>
<circle cx="2551.2" cy="348.2" r="14.8"/>
<circle cx="2575.9" cy="345.4" r="14.8"/>
<circle cx="2600.6" cy="349.2" r="14.8"/>
<circle cx="2625.3" cy="357.1" r="14.8"/>
<circle cx="2650.0" cy="358.0" r="14.8"/>
<circle cx="2674.7" cy="358.9" r="14.8"/>
<circle cx="2699.4" cy="359.9" r="14.8"/>
<circle cx="2724.1" cy="362.8" r="14.8"/>
<circle cx="2748.8" cy="364.8" r="14.8"/>
</g>
<g fill="#83c5be" fill-opacity="0.70" stroke="#000" stroke-opacity="0.31" stroke-width="0.95">
<circle cx="353.4" cy="675.0" r="14.8"/>
<circle cx="378.1" cy="654.1" r="14.8"/>
<circle cx="402.8" cy="650.3" r="14.8"/>
<circle cx="427.5" cy="624.1" r="14.8"/>
<circle cx="452.2" cy="613.4" r="14.8"/>
<circle cx="476.9" cy="599.7" r="14.8"/>
<circle cx="501.6" cy="579.9" r="14.8"/>
<circle cx="526.2" cy="560.9" r="14.8"/>
<circle cx="550.9" cy="549.6" r="14.8"/>
<circle cx="575.6" cy="503.7" r="14.8"/>
<circle cx="600.3" cy="484.2" r="14.8"/>
<circle cx="625.0" cy="456.0" r="14.8"/>
<circle cx="649.7" cy="448.2" r="14.8"/>
<circle cx="674.4" cy="438.5" r="14.8"/>
<circle cx="699.1" cy="446.3" r="14.8"/>
<circle cx="723.8" cy="445.0" r="14.8"/>
<circle cx="748.5" cy="442.5" r="14.8"/>
<circle cx="773.2" cy="463.4" r="14.8"/>
<circle cx="797.9" cy="463.4" r="14.8"/>
<circle cx="822.6" cy="456.0" r="14.8"/>
<circle cx="847.3" cy="447.3" r="14.8"/>
<circle cx="872.0" cy="445.4" r="14.8"/>
<circle cx="896.7" cy="455.1" r="14.8"/>
<circle cx="921.4" cy="455.1" r="14.8"/>
<circle cx="946.1" cy="446.3" r="14.8"/>
<circle cx="970.8" cy="442.5" r="14.8"/>
<circle cx="995.5" cy="441.4" r="14.8"/>
<circle cx="1020.1" cy="435.6" r="14.8"/>
<circle cx="1044.8" cy="433.7" r="14.8"/>
<circle cx="1069.5" cy="444.3" r="14.8"/>
<circle cx="1094.2" cy="444.3" r="14.8"/>
<circle cx="1118.9" cy="438.5" r="14.8"/>
<circle cx="1143.6" cy="430.8" r="14.8"/>
<circle cx="1168.3" cy="415.3" r="14.8"/>
<circle cx="1193.0" cy="389.9" r="14.8"/>
<circle cx="1217.7" cy="390.8" r="14.8"/>
<circle cx="1242.4" cy="384.1" r="14.8"/>
<circle cx="1267.1" cy="383.1" r="14.8"/>
<circle cx="1291.8" cy="368.0" r="14.8"/>
<circle cx="1316.5" cy="361.1" r="14.8"/>
<circle cx="1341.2" cy="361.8" r="14.8"/>
<circle cx="1365.9" cy="358.9" r="14.8"/>
<circle cx="1390.6" cy="351.1" r="14.8"/>
<circle cx="1415.3" cy="354.0" r="14.8"/>
<circle cx="1440.0" cy="356.0" r="14.8"/>
<circle cx="1464.7" cy="344.3" r="14.8"/>
<circle cx="1489.4" cy="339.4" r="14.8"/>
<circle cx="1514.1" cy="352.1" r="14.8"/>
<circle cx="1538.7" cy="336.6" r="14.8"/>
<circle cx="1563.4" cy="351.1" r="14.8"/>
<circle cx="1588.1" cy="350.7" r="14.8"/>
<circle cx="1612.8" cy="335.6" r="14.8"/>
<circle cx="1637.5" cy="327.7" r="14.8"/>
<circle cx="1662.2" cy="316.2" r="14.8"/>
<circle cx="1686.9" cy="309.4" r="14.8"/>
<circle cx="1711.6" cy="305.4" r="14.8"/>
<circle cx="1736.3" cy="295.2" r="14.8"/>
<circle cx="1761.0" cy="297.5" r="14.8"/>
<circle cx="1785.7" cy="294.1" r="14.8"/>
<circle cx="1810.4" cy="258.1" r="14.8"/>
<circle cx="1835.1" cy="244.2" r="14.8"/>
<circle cx="1859.8" cy="258.5" r="14.8"/>
<circle cx="1884.5" cy="249.4" r="14.8"/>
<circle cx="1909.2" cy="238.3" r="14.8"/>
<circle cx="1933.9" cy="242.7" r="14.8"/>
<circle cx="1958.6" cy="229.5" r="14.8"/>
<circle cx="1983.3" cy="217.2" r="14.8"/>
<circle cx="2008.0" cy="206.9" r="14.8"/>
<circle cx="2032.6" cy="203.3" r="14.8"/>
<circle cx="2057.3" cy="198.8" r="14.8"/>
<circle cx="2082.0" cy="202.7" r="14.8"/>
<circle cx="2106.7" cy="178.5" r="14.8"/>
<circle cx="2131.4" cy="165.9" r="14.8"/>
<circle cx="2156.1" cy="163.1" r="14.8"/>
<circle cx="2180.8" cy="153.4" r="14.8"/>
<circle cx="2205.5" cy="159.7" r="14.8"/>
<circle cx="2230.2" cy="161.4" r="14.8"/>
<circle cx="2254.9" cy="165.6" r="14.8"/>
<circle cx="2279.6" cy="167.3" r="14.8"/>
<circle cx="2304.3" cy="161.4" r="14.8"/>
<circle cx="2329.0" cy="148.1" r="14.8"/>
<circle cx="2353.7" cy="143.9" r="14.8"/>
<circle cx="2378.4" cy="141.2" r="14.8"/>
<circle cx="2403.1" cy="131.7" r="14.8"/>
<circle cx="2427.8" cy="124.1" r="14.8"/>
<circle cx="2452.5" cy="124.7" r="14.8"/>
<circle cx="2477.2" cy="122.0" r="14.8"/>
<circle cx="2501.9" cy="119.5" r="14.8"/>
<circle cx="2526.5" cy="115.9" r="14.8"/>
<circle cx="2551.2" cy="114.2" r="14.8"/>
<circle cx="2575.9" cy="115.0" r="14.8"/>
<circle cx="2600.6" cy="113.6" r="14.8"/>
<circle cx="2625.3" cy="115.0" r="14.8"/>
<circle cx="2650.0" cy="112.5" r="14.8"/>
<circle cx="2674.7" cy="114.2" r="14.8"/>
<circle cx="2699.4" cy="113.2" r="14.8"/>
<circle cx="2724.1" cy="112.5" r="14.8"/>
<circle cx="2748.8" cy="115.9" r="14.8"/>
</g>
<g fill="#43aeb3" fill-opacity="0.70" stroke="#000" stroke-opacity="0.31" stroke-width="0.95">
<circle cx="353.4" cy="783.3" r="14.8"/>
<circle cx="378.1" cy="777.1" r="14.8"/>
<circle cx="402.8" cy="755.5" r="14.8"/>
<circle cx="427.5" cy="756.1" r="14.8"/>
<circle cx="452.2" cy="751.3" r="14.8"/>
<circle cx="476.9" cy="701.1" r="14.8"/>
<circle cx="501.6" cy="667.3" r="14.8"/>
<circle cx="526.2" cy="660.1" r="14.8"/>
<circle cx="550.9" cy="643.0" r="14.8"/>
<circle cx="575.6" cy="647.8" r="14.8"/>
<circle cx="600.3" cy="648.8" r="14.8"/>
<circle cx="625.0" cy="642.7" r="14.8"/>
<circle cx="649.7" cy="632.2" r="14.8"/>
<circle cx="674.4" cy="606.6" r="14.8"/>
<circle cx="699.1" cy="611.4" r="14.8"/>
<circle cx="723.8" cy="600.7" r="14.8"/>
<circle cx="748.5" cy="585.2" r="14.8"/>
<circle cx="773.2" cy="564.8" r="14.8"/>
<circle cx="797.9" cy="581.4" r="14.8"/>
<circle cx="822.6" cy="556.9" r="14.8"/>
<circle cx="847.3" cy="539.4" r="14.8"/>
<circle cx="872.0" cy="545.3" r="14.8"/>
<circle cx="896.7" cy="542.5" r="14.8"/>
<circle cx="921.4" cy="527.0" r="14.8"/>
<circle cx="946.1" cy="520.5" r="14.8"/>
<circle cx="970.8" cy="522.5" r="14.8"/>
<circle cx="995.5" cy="532.3" r="14.8"/>
<circle cx="1020.1" cy="521.6" r="14.8"/>
<circle cx="1044.8" cy="499.6" r="14.8"/>
<circle cx="1069.5" cy="506.6" r="14.8"/>
<circle cx="1094.2" cy="498.8" r="14.8"/>
<circle cx="1118.9" cy="496.9" r="14.8"/>
<circle cx="1143.6" cy="496.9" r="14.8"/>
<circle cx="1168.3" cy="487.1" r="14.8"/>
<circle cx="1193.0" cy="484.2" r="14.8"/>
<circle cx="1217.7" cy="481.4" r="14.8"/>
<circle cx="1242.4" cy="465.7" r="14.8"/>
<circle cx="1267.1" cy="459.9" r="14.8"/>
<circle cx="1291.8" cy="458.9" r="14.8"/>
<circle cx="1316.5" cy="458.0" r="14.8"/>
<circle cx="1341.2" cy="463.4" r="14.8"/>
<circle cx="1365.9" cy="452.2" r="14.8"/>
<circle cx="1390.6" cy="413.4" r="14.8"/>
<circle cx="1415.3" cy="415.3" r="14.8"/>
<circle cx="1440.0" cy="418.2" r="14.8"/>
<circle cx="1464.7" cy="414.3" r="14.8"/>
<circle cx="1489.4" cy="404.6" r="14.8"/>
<circle cx="1514.1" cy="403.7" r="14.8"/>
<circle cx="1538.7" cy="401.7" r="14.8"/>
<circle cx="1563.4" cy="397.8" r="14.8"/>
<circle cx="1588.1" cy="400.7" r="14.8"/>
<circle cx="1612.8" cy="400.7" r="14.8"/>
<circle cx="1637.5" cy="399.8" r="14.8"/>
<circle cx="1662.2" cy="403.7" r="14.8"/>
<circle cx="1686.9" cy="404.6" r="14.8"/>
<circle cx="1711.6" cy="402.6" r="14.8"/>
<circle cx="1736.3" cy="395.8" r="14.8"/>
<circle cx="1761.0" cy="395.8" r="14.8"/>
<circle cx="1785.7" cy="383.2" r="14.8"/>
<circle cx="1810.4" cy="387.1" r="14.8"/>
<circle cx="1835.1" cy="368.1" r="14.8"/>
<circle cx="1859.8" cy="371.4" r="14.8"/>
<circle cx="1884.5" cy="365.7" r="14.8"/>
<circle cx="1909.2" cy="360.9" r="14.8"/>
<circle cx="1933.9" cy="344.3" r="14.8"/>
<circle cx="1958.6" cy="331.7" r="14.8"/>
<circle cx="1983.3" cy="319.1" r="14.8"/>
<circle cx="2008.0" cy="307.4" r="14.8"/>
<circle cx="2032.6" cy="298.3" r="14.8"/>
<circle cx="2057.3" cy="290.6" r="14.8"/>
<circle cx="2082.0" cy="286.4" r="14.8"/>
<circle cx="2106.7" cy="281.9" r="14.8"/>
<circle cx="2131.4" cy="283.6" r="14.8"/>
<circle cx="2156.1" cy="279.1" r="14.8"/>
<circle cx="2180.8" cy="280.2" r="14.8"/>
<circle cx="2205.5" cy="282.9" r="14.8"/>
<circle cx="2230.2" cy="288.9" r="14.8"/>
<circle cx="2254.9" cy="289.5" r="14.8"/>
<circle cx="2279.6" cy="295.8" r="14.8"/>
<circle cx="2304.3" cy="292.3" r="14.8"/>
<circle cx="2329.0" cy="305.3" r="14.8"/>
<circle cx="2353.7" cy="301.1" r="14.8"/>
<circle cx="2378.4" cy="295.8" r="14.8"/>
<circle cx="2403.1" cy="291.4" r="14.8"/>
<circle cx="2427.8" cy="296.5" r="14.8"/>
<circle cx="2452.5" cy="278.3" r="14.8"/>
<circle cx="2477.2" cy="283.6" r="14.8"/>
<circle cx="2501.9" cy="273.1" r="14.8"/>
<circle cx="2526.5" cy="259.2" r="14.8"/>
<circle cx="2551.2" cy="262.7" r="14.8"/>
<circle cx="2575.9" cy="264.4" r="14.8"/>
<circle cx="2600.6" cy="261.9" r="14.8"/>
<circle cx="2625.3" cy="262.7" r="14.8"/>
<circle cx="2650.0" cy="258.5" r="14.8"/>
<circle cx="2674.7" cy="261.9" r="14.8"/>
<circle cx="2699.4" cy="263.4" r="14.8"/>
<circle cx="2724.1" cy="271.4" r="14.8"/>
<circle cx="2748.8" cy="269.7" r="14.8"/>
</g>
<g fill="#0d9baa" fill-opacity="0.70" stroke="#000" stroke-opacity="0.31" stroke-width="0.95">
<circle cx="353.4" cy="845.7" r="14.8"/>
<circle cx="378.1" cy="847.4" r="14.8"/>
<circle cx="402.8" cy="852.0" r="14.8"/>
<circle cx="427.5" cy="849.3" r="14.8"/>
<circle cx="452.2" cy="848.2" r="14.8"/>
<circle cx="476.9" cy="847.4" r="14.8"/>
<circle cx="501.6" cy="851.0" r="14.8"/>
<circle cx="526.2" cy="851.0" r="14.8"/>
<circle cx="550.9" cy="851.6" r="14.8"/>
<circle cx="575.6" cy="844.7" r="14.8"/>
<circle cx="600.3" cy="849.3" r="14.8"/>
<circle cx="625.0" cy="849.3" r="14.8"/>
<circle cx="649.7" cy="849.9" r="14.8"/>
<circle cx="674.4" cy="849.3" r="14.8"/>
<circle cx="699.1" cy="849.9" r="14.8"/>
<circle cx="723.8" cy="813.1" r="14.8"/>
<circle cx="748.5" cy="759.1" r="14.8"/>
<circle cx="773.2" cy="735.7" r="14.8"/>
<circle cx="797.9" cy="728.0" r="14.8"/>
<circle cx="822.6" cy="706.0" r="14.8"/>
<circle cx="847.3" cy="701.8" r="14.8"/>
<circle cx="872.0" cy="695.5" r="14.8"/>
<circle cx="896.7" cy="697.2" r="14.8"/>
<circle cx="921.4" cy="682.7" r="14.8"/>
<circle cx="946.1" cy="671.1" r="14.8"/>
<circle cx="970.8" cy="656.1" r="14.8"/>
<circle cx="995.5" cy="646.4" r="14.8"/>
<circle cx="1020.1" cy="657.0" r="14.8"/>
<circle cx="1044.8" cy="661.9" r="14.8"/>
<circle cx="1069.5" cy="657.7" r="14.8"/>
<circle cx="1094.2" cy="660.1" r="14.8"/>
<circle cx="1118.9" cy="659.0" r="14.8"/>
<circle cx="1143.6" cy="657.7" r="14.8"/>
<circle cx="1168.3" cy="644.4" r="14.8"/>
<circle cx="1193.0" cy="646.9" r="14.8"/>
<circle cx="1217.7" cy="635.7" r="14.8"/>
<circle cx="1242.4" cy="634.7" r="14.8"/>
<circle cx="1267.1" cy="632.9" r="14.8"/>
<circle cx="1291.8" cy="600.7" r="14.8"/>
<circle cx="1316.5" cy="601.7" r="14.8"/>
<circle cx="1341.2" cy="602.8" r="14.8"/>
<circle cx="1365.9" cy="599.0" r="14.8"/>
<circle cx="1390.6" cy="600.5" r="14.8"/>
<circle cx="1415.3" cy="601.3" r="14.8"/>
<circle cx="1440.0" cy="604.3" r="14.8"/>
<circle cx="1464.7" cy="601.3" r="14.8"/>
<circle cx="1489.4" cy="599.4" r="14.8"/>
<circle cx="1514.1" cy="598.6" r="14.8"/>
<circle cx="1538.7" cy="604.7" r="14.8"/>
<circle cx="1563.4" cy="601.5" r="14.8"/>
<circle cx="1588.1" cy="602.4" r="14.8"/>
<circle cx="1612.8" cy="602.8" r="14.8"/>
<circle cx="1637.5" cy="599.9" r="14.8"/>
<circle cx="1662.2" cy="600.5" r="14.8"/>
<circle cx="1686.9" cy="599.4" r="14.8"/>
<circle cx="1711.6" cy="594.6" r="14.8"/>
<circle cx="1736.3" cy="602.8" r="14.8"/>
<circle cx="1761.0" cy="602.8" r="14.8"/>
<circle cx="1785.7" cy="599.9" r="14.8"/>
<circle cx="1810.4" cy="600.9" r="14.8"/>
<circle cx="1835.1" cy="603.8" r="14.8"/>
<circle cx="1859.8" cy="599.9" r="14.8"/>
<circle cx="1884.5" cy="603.8" r="14.8"/>
<circle cx="1909.2" cy="599.9" r="14.8"/>
<circle cx="1933.9" cy="598.6" r="14.8"/>
<circle cx="1958.6" cy="600.8" r="14.8"/>
<circle cx="1983.3" cy="595.9" r="14.8"/>
<circle cx="2008.0" cy="600.8" r="14.8"/>
<circle cx="2032.6" cy="601.2" r="14.8"/>
<circle cx="2057.3" cy="601.8" r="14.8"/>
<circle cx="2082.0" cy="603.2" r="14.8"/>
<circle cx="2106.7" cy="599.5" r="14.8"/>
<circle cx="2131.4" cy="599.4" r="14.8"/>
<circle cx="2156.1" cy="604.3" r="14.8"/>
<circle cx="2180.8" cy="599.9" r="14.8"/>
<circle cx="2205.5" cy="602.4" r="14.8"/>
<circle cx="2230.2" cy="601.8" r="14.8"/>
<circle cx="2254.9" cy="601.2" r="14.8"/>
<circle cx="2279.6" cy="597.0" r="14.8"/>
<circle cx="2304.3" cy="599.9" r="14.8"/>
<circle cx="2329.0" cy="600.8" r="14.8"/>
<circle cx="2353.7" cy="594.2" r="14.8"/>
<circle cx="2378.4" cy="602.0" r="14.8"/>
<circle cx="2403.1" cy="602.0" r="14.8"/>
<circle cx="2427.8" cy="596.1" r="14.8"/>
<circle cx="2452.5" cy="594.2" r="14.8"/>
<circle cx="2477.2" cy="597.1" r="14.8"/>
<circle cx="2501.9" cy="598.0" r="14.8"/>
<circle cx="2526.5" cy="602.9" r="14.8"/>
<circle cx="2551.2" cy="602.9" r="14.8"/>
<circle cx="2575.9" cy="596.1" r="14.8"/>
<circle cx="2600.6" cy="600.0" r="14.8"/>
<circle cx="2625.3" cy="600.0" r="14.8"/>
<circle cx="2650.0" cy="600.9" r="14.8"/>
<circle cx="2674.7" cy="602.0" r="14.8"/>
<circle cx="2699.4" cy="599.0" r="14.8"/>
<circle cx="2724.1" cy="602.0" r="14.8"/>
<circle cx="2748.8" cy="600.9" r="14.8"/>
</g>
<rect x="233.60" y="72.30" width="2635.90" height="884.10" fill="none" stroke="#000" stroke-width="3.33"/>
<g stroke="#000" stroke-width="3.33">
<line x1="279.90" y1="956.40" x2="279.90" y2="971.40"/>
<line x1="773.80" y1="956.40" x2="773.80" y2="971.40"/>
<line x1="1267.70" y1="956.40" x2="1267.70" y2="971.40"/>
<line x1="1761.60" y1="956.40" x2="1761.60" y2="971.40"/>
<line x1="2255.50" y1="956.40" x2="2255.50" y2="971.40"/>
<line x1="2749.40" y1="956.40" x2="2749.40" y2="971.40"/>
<line x1="233.60" y1="930.80" x2="218.50" y2="930.80"/>
<line x1="233.60" y1="668.00" x2="218.50" y2="668.00"/>
<line x1="233.60" y1="405.20" x2="218.50" y2="405.20"/>
<line x1="233.60" y1="142.40" x2="218.50" y2="142.40"/>
</g>
<text x="279.90" y="1032.80" text-anchor="middle">0</text>
<text x="773.80" y="1032.80" text-anchor="middle">200</text>
<text x="1267.70" y="1032.80" text-anchor="middle">400</text>
<text x="1761.60" y="1032.80" text-anchor="middle">600</text>
<text x="2255.50" y="1032.80" text-anchor="middle">800</text>
<text x="2749.40" y="1032.80" text-anchor="middle">1000</text>
<text x="204.60" y="954.70" text-anchor="end">0</text>
<text x="204.60" y="691.90" text-anchor="end">2</text>
<text x="204.60" y="429.10" text-anchor="end">4</text>
<text x="204.60" y="166.30" text-anchor="end">6</text>
<text x="1551.05" y="1111.20" text-anchor="middle">Time (ps)</text>
<text transform="translate(135.20,515.35) rotate(-90)" text-anchor="middle">RMSD (Å)</text>
<defs><linearGradient id="cb" x1="0" y1="1" x2="0" y2="0"><stop offset="0" stop-color="#6fb147"/><stop offset="0.5" stop-color="#f9efd3"/><stop offset="1" stop-color="#0d9baa"/></linearGradient></defs>
<rect x="3034.70" y="72.30" width="44.30" height="884.10" fill="url(#cb)" fill-opacity="0.70"/>
<rect x="3034.70" y="72.30" width="44.30" height="884.10" fill="none" stroke="#000" stroke-width="3.33"/>
<g stroke="#000" stroke-width="3.33">
<line x1="3079.00" y1="837.39" x2="3093.60" y2="837.39"/>
<line x1="3079.00" y1="667.37" x2="3093.60" y2="667.37"/>
<line x1="3079.00" y1="497.35" x2="3093.60" y2="497.35"/>
<line x1="3079.00" y1="327.33" x2="3093.60" y2="327.33"/>
<line x1="3079.00" y1="157.31" x2="3093.60" y2="157.31"/>
</g>
<text x="3107.00" y="861.29">10</text>
<text x="3107.00" y="691.27">20</text>
<text x="3107.00" y="521.25">30</text>
<text x="3107.00" y="351.23">40</text>
<text x="3107.00" y="181.21">50</text>
<text transform="translate(3246.20,515.55) rotate(-90)" text-anchor="middle">Size (Atoms)</text>
</svg></body></html>
